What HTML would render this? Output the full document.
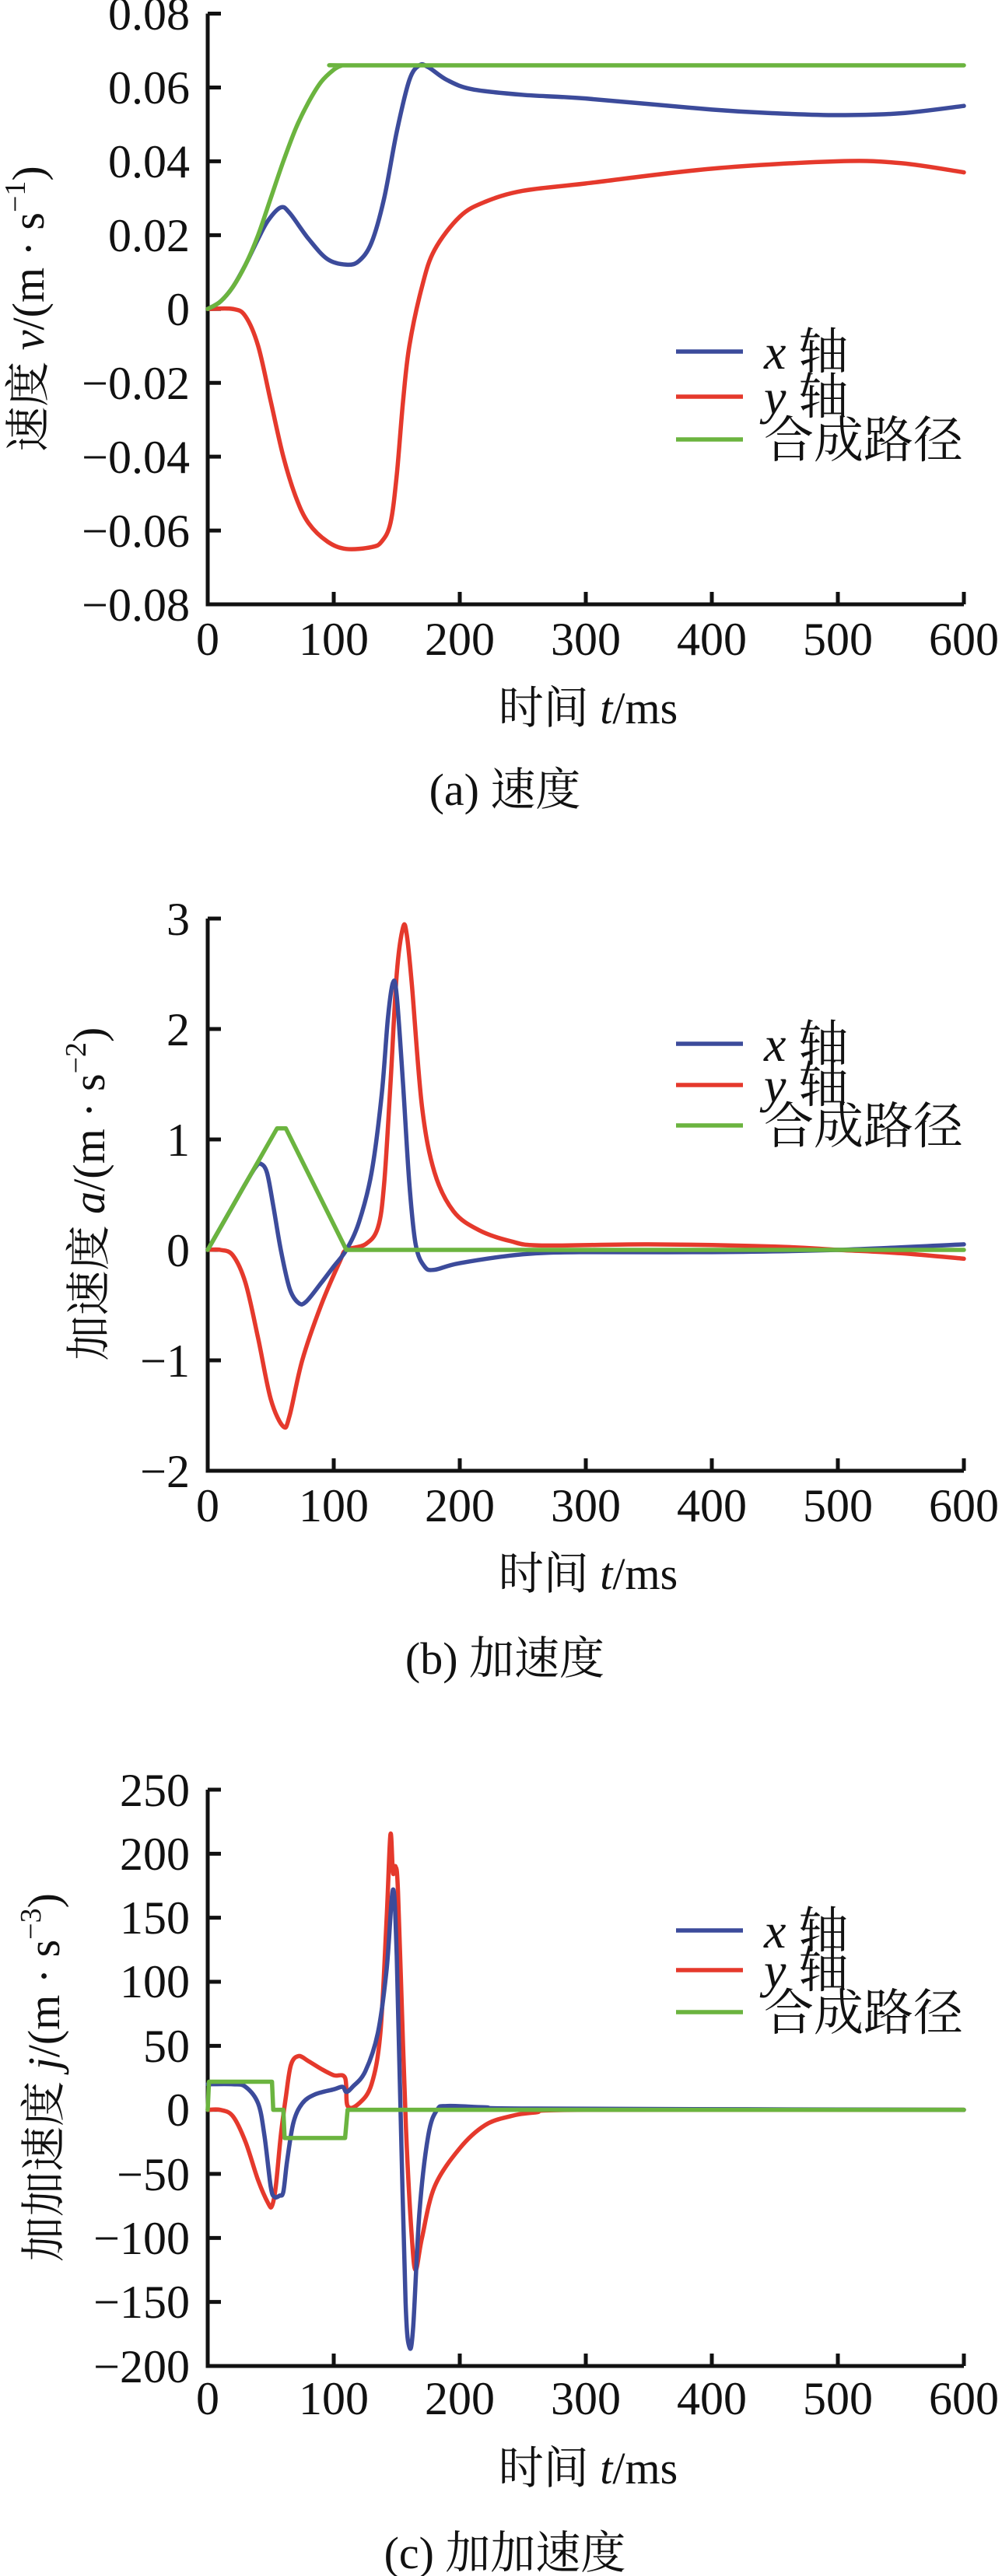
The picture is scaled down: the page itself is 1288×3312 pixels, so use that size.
<!DOCTYPE html>
<html><head><meta charset="utf-8"><style>
html,body{margin:0;padding:0;background:#fff;}
svg{display:block;}
text{font-family:"Liberation Serif","Noto Serif CJK SC",serif;fill:#111;}
.t{font-size:60px;}
</style></head><body>
<svg id="s" width="1288" height="3312" viewBox="0 0 1288 3312" xmlns="http://www.w3.org/2000/svg">
<g id="axes" stroke="#111" stroke-width="5" fill="none"></g>
<g id="series" fill="none" stroke-width="5.5" stroke-linejoin="round" stroke-linecap="round"></g>
<g id="labels">
<!-- (a) -->
<text class="t" text-anchor="end" x="244" y="38">0.08</text>
<text class="t" text-anchor="end" x="244" y="133">0.06</text>
<text class="t" text-anchor="end" x="244" y="228">0.04</text>
<text class="t" text-anchor="end" x="244" y="323">0.02</text>
<text class="t" text-anchor="end" x="244" y="418">0</text>
<text class="t" text-anchor="end" x="244" y="513">−0.02</text>
<text class="t" text-anchor="end" x="244" y="608">−0.04</text>
<text class="t" text-anchor="end" x="244" y="703">−0.06</text>
<text class="t" text-anchor="end" x="244" y="798">−0.08</text>
<g class="t" text-anchor="middle">
<text x="267" y="842">0</text><text x="429" y="842">100</text><text x="591" y="842">200</text><text x="753" y="842">300</text><text x="915" y="842">400</text><text x="1077" y="842">500</text><text x="1239" y="842">600</text></g>
<text x="756" y="930" text-anchor="middle" font-size="58">时间 <tspan font-style="italic">t</tspan>/ms</text>
<text x="649" y="1035" text-anchor="middle" font-size="58">(a) 速度</text>
<text transform="translate(56,397) rotate(-90)" text-anchor="middle" font-size="58">速度 <tspan font-style="italic">v</tspan>/(m · s<tspan font-size="38" dy="-24">−1</tspan><tspan dy="24">)</tspan></text>
<g font-size="64"><text x="982" y="474"><tspan font-style="italic">x</tspan> 轴</text><text x="982" y="532"><tspan font-style="italic">y</tspan> 轴</text><text x="982" y="588">合成路径</text></g>

<!-- (b) -->
<g class="t" text-anchor="end">
<text x="244" y="1202">3</text><text x="244" y="1344">2</text><text x="244" y="1486">1</text><text x="244" y="1628">0</text><text x="244" y="1770">−1</text><text x="244" y="1912">−2</text></g>
<g class="t" text-anchor="middle">
<text x="267" y="1956">0</text><text x="429" y="1956">100</text><text x="591" y="1956">200</text><text x="753" y="1956">300</text><text x="915" y="1956">400</text><text x="1077" y="1956">500</text><text x="1239" y="1956">600</text></g>
<text x="756" y="2043" text-anchor="middle" font-size="58">时间 <tspan font-style="italic">t</tspan>/ms</text>
<text x="649" y="2152" text-anchor="middle" font-size="58">(b) 加速度</text>
<text transform="translate(134,1535) rotate(-90)" text-anchor="middle" font-size="58">加速度 <tspan font-style="italic">a</tspan>/(m · s<tspan font-size="38" dy="-24">−2</tspan><tspan dy="24">)</tspan></text>
<g font-size="64"><text x="982" y="1364"><tspan font-style="italic">x</tspan> 轴</text><text x="982" y="1417"><tspan font-style="italic">y</tspan> 轴</text><text x="982" y="1470">合成路径</text></g>

<!-- (c) -->
<g class="t" text-anchor="end">
<text x="244" y="2322">250</text><text x="244" y="2404">200</text><text x="244" y="2486">150</text><text x="244" y="2568">100</text><text x="244" y="2651">50</text><text x="244" y="2733">0</text><text x="244" y="2816">−50</text><text x="244" y="2898">−100</text><text x="244" y="2980">−150</text><text x="244" y="3063">−200</text></g>
<g class="t" text-anchor="middle">
<text x="267" y="3104">0</text><text x="429" y="3104">100</text><text x="591" y="3104">200</text><text x="753" y="3104">300</text><text x="915" y="3104">400</text><text x="1077" y="3104">500</text><text x="1239" y="3104">600</text></g>
<text x="756" y="3193" text-anchor="middle" font-size="58">时间 <tspan font-style="italic">t</tspan>/ms</text>
<text x="649" y="3302" text-anchor="middle" font-size="58">(c) 加加速度</text>
<text transform="translate(76,2671) rotate(-90)" text-anchor="middle" font-size="58">加加速度 <tspan font-style="italic">j</tspan>/(m · s<tspan font-size="38" dy="-24">−3</tspan><tspan dy="24">)</tspan></text>
<g font-size="64"><text x="982" y="2504"><tspan font-style="italic">x</tspan> 轴</text><text x="982" y="2555"><tspan font-style="italic">y</tspan> 轴</text><text x="982" y="2610">合成路径</text></g>
</g>
</svg>
<script>
var B="#3c4b9b",R="#e5392c",G="#6bb43f";
var axes=document.getElementById('axes'),ser=document.getElementById('series');
function X(t){return 267+t*1.62;}
function el(p,a){var e=document.createElementNS('http://www.w3.org/2000/svg',p);for(var k in a)e.setAttribute(k,a[k]);return e;}
function panel(top,bot,vmin,vmax,step){
  var d='M267,'+top+' L267,'+bot+' L1239,'+bot;
  for(var i=1;i<=6;i++){var x=X(i*100);d+=' M'+x+','+bot+' L'+x+','+(bot-16);}
  var n=Math.round((vmax-vmin)/step);
  for(var j=0;j<n;j++){var y=top+(bot-top)*j/n;d+=' M267,'+y+' L284,'+y;}
  axes.appendChild(el('path',{d:d}));
  return function(v){return bot-(v-vmin)/(vmax-vmin)*(bot-top);};
}
function smooth(pts,Y){
  var P=pts.map(function(p){return [X(p[0]),Y(p[1])];});
  var d='M'+P[0][0]+','+P[0][1];
  for(var i=0;i<P.length-1;i++){
    var p0=P[i-1]||P[i],p1=P[i],p2=P[i+1],p3=P[i+2]||P[i+1];
    var c1=[p1[0]+(p2[0]-p0[0])/6,p1[1]+(p2[1]-p0[1])/6];
    var c2=[p2[0]-(p3[0]-p1[0])/6,p2[1]-(p3[1]-p1[1])/6];
    d+=' C'+c1+' '+c2+' '+p2;
  }
  return d;
}
function lin(pts,Y){return 'M'+pts.map(function(p){return X(p[0])+','+Y(p[1]);}).join(' L');}
function add(d,c){ser.appendChild(el('path',{d:d,stroke:c}));}
function legend(ys){[B,R,G].forEach(function(c,i){ser.appendChild(el('path',{d:'M869,'+ys[i]+' L955,'+ys[i],stroke:c,'stroke-linecap':'butt'}));});}

// (a)
var Ya=panel(17.5,777,-0.08,0.08,0.02);
add(smooth([[0,0],[20,0],[30,-0.002],[40,-0.01],[50,-0.025],[60,-0.04],[70,-0.051],[80,-0.058],[95,-0.063],[110,-0.065],[130,-0.0645],[138,-0.063],[145,-0.058],[150,-0.045],[155,-0.025],[160,-0.01],[170,0.006],[180,0.016],[200,0.025],[220,0.029],[250,0.032],[300,0.034],[400,0.038],[500,0.04],[550,0.0395],[600,0.037]],Ya),R);
add(smooth([[0,0],[10,0.002],[20,0.006],[30,0.012],[40,0.019],[48,0.024],[58,0.0275],[65,0.026],[80,0.019],[95,0.0135],[110,0.012],[120,0.013],[130,0.018],[140,0.03],[150,0.048],[160,0.062],[168,0.066],[175,0.0655],[190,0.062],[210,0.0595],[250,0.058],[300,0.057],[400,0.054],[450,0.053],[500,0.0525],[550,0.053],[600,0.055]],Ya),B);
add(smooth([[0,0],[10,0.002],[20,0.006],[30,0.012],[40,0.02],[50,0.03],[60,0.04],[70,0.049],[80,0.056],[90,0.0615],[100,0.0648],[106,0.0659],[112,0.066],[300,0.066],[600,0.066]],Ya),G);
legend([452,510,565]);

// (b)
var Yb=panel(1181,1891,-2,3,1);
add(smooth([[0,0],[10,0],[20,-0.05],[30,-0.3],[40,-0.8],[50,-1.35],[60,-1.6],[65,-1.5],[75,-1.0],[90,-0.5],[105,-0.1],[110,0],[125,0.05],[135,0.2],[140,0.6],[145,1.5],[150,2.5],[155,2.92],[158,2.85],[162,2.4],[170,1.3],[180,0.7],[195,0.35],[215,0.18],[240,0.08],[265,0.04],[350,0.05],[450,0.03],[500,0],[550,-0.03],[600,-0.08]],Yb),R);
add(smooth([[0,0],[10,0.2],[20,0.4],[30,0.6],[38,0.75],[42,0.78],[47,0.7],[52,0.4],[58,0],[65,-0.35],[72,-0.48],[78,-0.47],[90,-0.3],[100,-0.15],[110,0],[120,0.25],[130,0.7],[138,1.4],[143,2.1],[147,2.42],[150,2.3],[155,1.5],[160,0.6],[165,0.05],[172,-0.15],[180,-0.18],[200,-0.12],[250,-0.04],[300,-0.02],[400,-0.02],[500,0],[600,0.05]],Yb),B);
add(lin([[0,0],[55,1.1],[62,1.1],[110,0],[600,0]],Yb),G);
legend([1342,1395,1447]);

// (c)
var Yc=panel(2301,3042,-200,250,50);
add(smooth([[0,0],[10,0],[20,-5],[30,-25],[40,-55],[48,-73],[51,-75],[54,-60],[58,-20],[62,10],[66,35],[72,42],[80,38],[90,32],[100,27],[109,25],[111,3],[120,5],[130,20],[137,60],[142,150],[145,215],[147,185],[149,190],[151,170],[155,50],[158,-30],[162,-100],[165,-125],[170,-100],[180,-60],[200,-30],[220,-12],[240,-5],[260,-2],[300,0],[600,0]],Yc),R);
add(smooth([[0,20],[20,20],[30,18],[40,5],[45,-20],[50,-60],[53,-68],[57,-67],[60,-64],[63,-40],[68,-10],[75,5],[85,12],[100,16],[107,18],[110,14],[115,18],[125,30],[135,60],[142,110],[147,172],[150,120],[153,0],[157,-150],[160,-185],[163,-170],[168,-80],[175,-20],[182,0],[190,3],[220,2],[260,1],[600,0]],Yc),B);
add(lin([[0,0],[1,22],[51,22],[52,0],[60,0],[61,-22],[109,-22],[111,0],[600,0]],Yc),G);
legend([2482,2533,2587]);
</script>
</body></html>
